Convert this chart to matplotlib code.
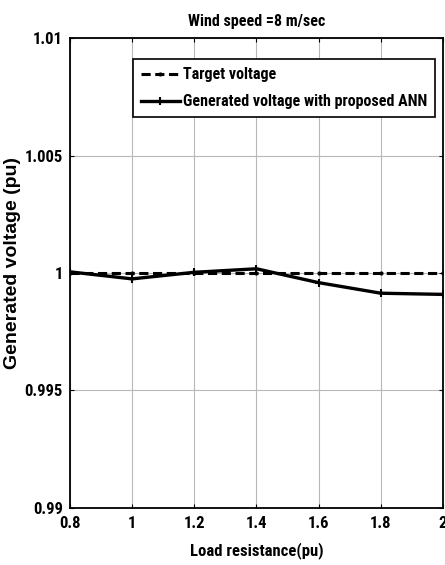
import matplotlib
matplotlib.use("Agg")
import matplotlib.pyplot as plt
from matplotlib import font_manager as fm

names = {f.name for f in fm.fontManager.ttflist}
narrow = 'DejaVu Sans'
for cand in ['Liberation Sans Narrow', 'Arimo Narrow', 'Roboto Condensed', 'Archivo Narrow',
             'Asap Condensed', 'Barlow Semi Condensed']:
    if cand in names:
        narrow = cand
        break

load_res = [0.8, 1.0, 1.2, 1.4, 1.6, 1.8, 2.0]
target_v = [1.0, 1.0, 1.0, 1.0, 1.0, 1.0, 1.0]
generated_v = [1.00005, 0.99975, 1.00003, 1.00018, 0.99959, 0.99914, 0.99909]
xticks = [0.8, 1.0, 1.2, 1.4, 1.6, 1.8, 2.0]
xtick_labels = ['0.8', '1', '1.2', '1.4', '1.6', '1.8', '2']
yticks = [0.99, 0.995, 1.0, 1.005, 1.01]
ytick_labels = ['0.99', '0.995', '1', '1.005', '1.01']

fig = plt.figure(figsize=(4.45, 5.65), dpi=100)
ax = fig.add_axes([0.157, 0.1009, 0.8385, 0.8318])

ax.plot(load_res, target_v, color='black', lw=2.2, ls=(0, (3, 1.5)), marker='.', ms=4,
        label='Target voltage')
ax.plot(load_res, generated_v, color='black', lw=2.4, marker='+', ms=6, mew=1.5,
        label='Generated voltage with proposed ANN')

ax.set_xlim(0.8, 2.0)
ax.set_ylim(0.99, 1.01)
ax.set_xticks(xticks)
ax.set_xticklabels(xtick_labels)
ax.set_yticks(yticks)
ax.set_yticklabels(ytick_labels)
ax.grid(True, color='#b8b8b8', lw=0.8)
ax.tick_params(direction='in', top=True, right=True, length=3, width=0.8)
ax.tick_params(axis='x', pad=6)
ax.tick_params(axis='y', pad=5)
for lab in ax.get_xticklabels() + ax.get_yticklabels():
    lab.set_fontfamily(narrow)
    lab.set_fontweight('bold')
    lab.set_fontsize(12)
for s in ax.spines.values():
    s.set_linewidth(1.3)

ax.set_title('Wind speed =8 m/sec', fontfamily=narrow, fontweight='bold', fontsize=11.5, pad=9)
ax.set_xlabel('Load resistance(pu)', fontfamily=narrow, fontweight='bold', fontsize=12, labelpad=8)
ax.set_ylabel('Generated voltage (pu)', fontfamily='Liberation Sans', fontweight='bold', fontsize=14)
ax.yaxis.set_label_coords(-0.13, 0.521)

leg = ax.legend(loc='upper right', bbox_to_anchor=(0.9786, 0.955), borderaxespad=0,
                fancybox=False, framealpha=1, edgecolor='black',
                prop={'family': narrow, 'weight': 'bold', 'size': 11.5},
                handlelength=2.4, handletextpad=0.2, borderpad=0.5, labelspacing=0.75)
leg.get_frame().set_linewidth(1.2)

fig.savefig('out.png', dpi=100)
